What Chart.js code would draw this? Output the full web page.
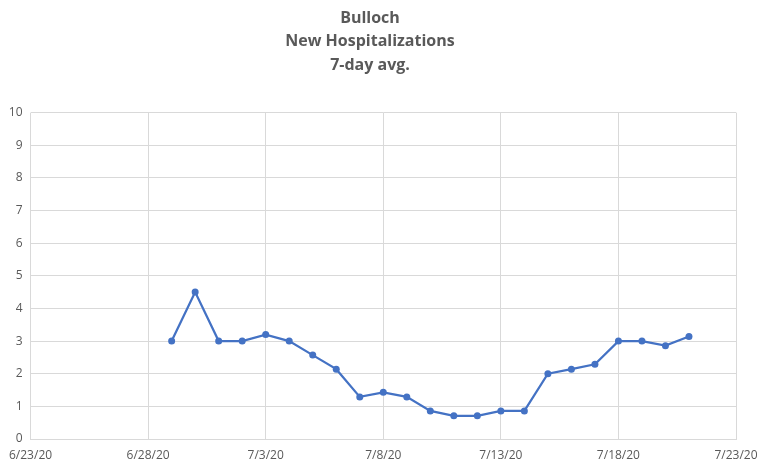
<!DOCTYPE html>
<html>
<head>
<meta charset="utf-8">
<script src="https://cdn.jsdelivr.net/npm/chart.js@4.4.0/dist/chart.umd.min.js"></script>
<style>
  html, body { margin: 0; padding: 0; background: #fff; }
  #chart { display: block; }
</style>
</head>
<body>
<canvas id="chart" width="769" height="463"></canvas>
<script>
// dates of each point (m/d/yy) and the 7-day average values
const dates = [
  "6/29/20", "6/30/20", "7/1/20", "7/2/20", "7/3/20", "7/4/20", "7/5/20",
  "7/6/20", "7/7/20", "7/8/20", "7/9/20", "7/10/20", "7/11/20", "7/12/20",
  "7/13/20", "7/14/20", "7/15/20", "7/16/20", "7/17/20", "7/18/20",
  "7/19/20", "7/20/20", "7/21/20",
];
const avgValues = [
  3.0, 4.5, 3.0, 3.0, 3.2, 3.0, 2.57, 2.14, 1.29, 1.43, 1.29, 0.86, 0.71,
  0.71, 0.86, 0.86, 2.0, 2.14, 2.29, 3.0, 3.0, 2.86, 3.14,
];
const xTickLabels = ["6/23/20", "6/28/20", "7/3/20", "7/8/20", "7/13/20", "7/18/20", "7/23/20"];
const titleLines = ["Bulloch", "New Hospitalizations", "7-day avg."];

// days since 6/23/20
const startDay = new Date(2020, 5, 23);
const dayOffset = (s) => {
  const [m, d, y] = s.split("/").map(Number);
  return Math.round((new Date(2000 + y, m - 1, d) - startDay) / 86400000);
};

const points = dates.map((d, i) => ({ x: dayOffset(d), y: avgValues[i] }));

const textColor = "#595959";
const gridColor = "#d9d9d9";

const ctx = document.getElementById("chart").getContext("2d");
new Chart(ctx, {
  type: "line",
  data: {
    datasets: [
      {
        label: "7-day avg.",
        data: points,
        borderColor: "#4472c4",
        backgroundColor: "#4472c4",
        borderWidth: 2.25,
        pointRadius: 3.5,
        pointBorderWidth: 0,
        tension: 0,
      },
    ],
  },
  options: {
    responsive: false,
    animation: false,
    layout: { padding: { left: 4, right: 33, top: 7, bottom: 0 } },
    plugins: {
      legend: { display: false },
      tooltip: { enabled: false },
      title: {
        display: true,
        text: titleLines,
        color: textColor,
        font: { family: "'Open Sans', sans-serif", size: 16, weight: "bold", lineHeight: 1.45 },
        padding: { top: 0, bottom: 36 },
      },
    },
    scales: {
      x: {
        type: "linear",
        min: 0,
        max: 30,
        grid: { color: gridColor, drawTicks: false },
        border: { color: gridColor },
        ticks: {
          stepSize: 5,
          padding: 9,
          maxRotation: 0,
          color: textColor,
          font: { family: "'Open Sans', sans-serif", size: 12 },
          callback: (v) => xTickLabels[v / 5],
        },
        afterFit: (scale) => { scale.height = 24; },
      },
      y: {
        min: 0,
        max: 10,
        grid: { color: gridColor, drawTicks: false },
        border: { display: false },
        ticks: {
          stepSize: 1,
          padding: 8,
          color: textColor,
          font: { family: "'Open Sans', sans-serif", size: 12 },
        },
        afterFit: (scale) => { scale.width = 25; },
      },
    },
  },
});
</script>
</body>
</html>
